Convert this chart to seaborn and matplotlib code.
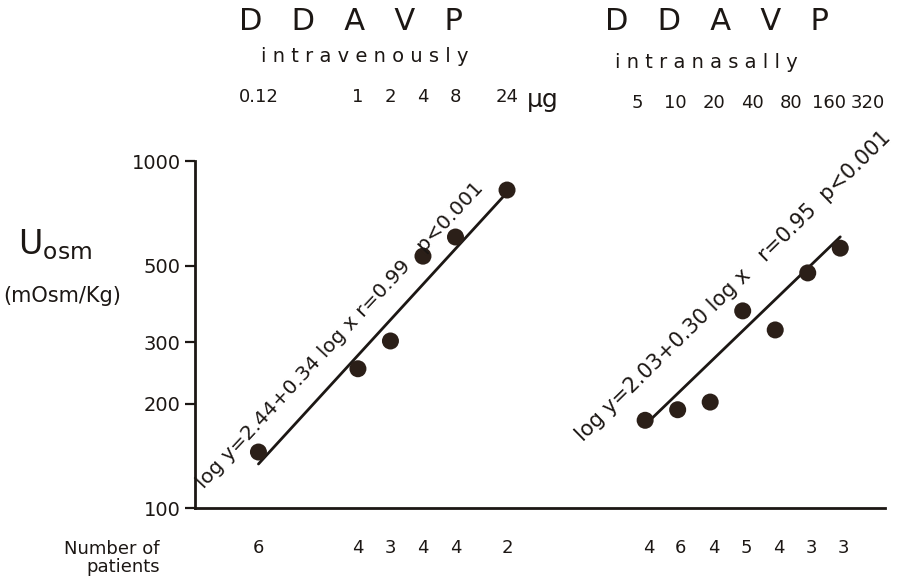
import numpy as np
import pandas as pd
import matplotlib
matplotlib.use('Agg')
import matplotlib.pyplot as plt
import matplotlib.transforms as mtransforms
import seaborn as sns

# DDAVP given intravenously (ug) and intranasally (ug)
iv_dose = [0.12, 1, 2, 4, 8, 24]
iv_uosm = [145, 252, 303, 532, 604, 825]
iv_n = [6, 4, 3, 4, 4, 2]

in_dose = [5, 10, 20, 40, 80, 160, 320]
in_uosm = [179, 192, 202, 370, 326, 476, 561]
in_n = [4, 6, 4, 5, 4, 3, 3]

# regression: log y = a + b log x
iv_fit = (2.44, 0.34)
in_fit = (2.03, 0.30)
iv_label = 'log y=2.44+0.34 log x r=0.99   p<0.001'
in_label = 'log y=2.03+0.30 log x   r=0.95  p<0.001'

yticks = [100, 200, 300, 500, 1000]

IN_OFFSET = 6.51  # horizontal shift of the intranasal block (log2 units)

df = pd.concat([
    pd.DataFrame({'dose': iv_dose, 'uosm': iv_uosm, 'n': iv_n, 'route': 'iv',
                  'pos': np.log2(iv_dose)}),
    pd.DataFrame({'dose': in_dose, 'uosm': in_uosm, 'n': in_n, 'route': 'in',
                  'pos': np.log2(in_dose) + IN_OFFSET}),
], ignore_index=True)

sns.set_style('white')
plt.rcParams['font.family'] = ['DejaVu Sans']
ink = '#1c1714'

fig = plt.figure(figsize=(9.14, 5.81), dpi=100)
ax = fig.add_axes([0.213, 0.1256, 0.755, 0.5972])

# fitted lines from the stated equations
lines = []
for route, doses, (a, b), off in [('iv', iv_dose, iv_fit, 0), ('in', in_dose, in_fit, IN_OFFSET)]:
    xs = np.array([doses[0], doses[-1]], dtype=float)
    lines.append(pd.DataFrame({'pos': np.log2(xs) + off,
                               'fit': 10 ** (a + b * np.log10(xs)),
                               'route': route}))
lines = pd.concat(lines, ignore_index=True)
sns.lineplot(data=lines, x='pos', y='fit', units='route', estimator=None,
             color=ink, lw=2.0, ax=ax, legend=False)

sns.scatterplot(data=df, x='pos', y='uosm', color='#2b1f18', s=150,
                edgecolor='none', ax=ax, legend=False, zorder=3)

ax.set_yscale('log')
ax.set_ylim(100, 1000)
ax.set_xlim(-5.02, 16.2)
ax.set_yticks(yticks)
ax.set_yticklabels([str(t) for t in yticks], fontsize=14, color=ink)
ax.yaxis.set_minor_locator(matplotlib.ticker.NullLocator())
ax.set_xticks([])
ax.tick_params(axis='y', direction='out', length=7, width=1.6, left=True, color=ink, pad=3)
ax.set_xlabel('')
ax.set_ylabel('')
for side in ['top', 'right']:
    ax.spines[side].set_visible(False)
for side in ['left', 'bottom']:
    ax.spines[side].set_linewidth(2.0)
    ax.spines[side].set_color(ink)

# equations along the lines
ax.text(-4.72, 113, iv_label, rotation=47, rotation_mode='anchor',
        ha='left', va='baseline', fontsize=14.5, color=ink)
ax.text(6.92, 155, in_label, rotation=44.5, rotation_mode='anchor',
        ha='left', va='baseline', fontsize=15, color=ink)

# top dose labels and bottom patient numbers
trans = mtransforms.blended_transform_factory(ax.transData, fig.transFigure)
iv = df[df.route == 'iv']
nas = df[df.route == 'in']
for p, d in zip(iv.pos, iv.dose):
    lab = '0.12' if d == 0.12 else f'{d:g}'
    ax.text(p, 1 - 97 / 581, lab, transform=trans, ha='center', va='center',
            fontsize=13, color=ink)
ax.text(iv.pos.iloc[-1] + 0.6, 1 - 100 / 581, 'µg', transform=trans, ha='left',
        va='center', fontsize=18, color=ink)
centre = nas.pos.mean()
for p, d in zip(nas.pos, nas.dose):
    ax.text(centre + 0.3 + 1.18 * (p - centre), 1 - 103 / 581, f'{d:g}', transform=trans,
            ha='center', va='center', fontsize=13, color=ink)
for p, n in zip(df.pos, df.n):
    ax.text(p + (0.1 if p > 5 else 0), 1 - 548 / 581, str(n), transform=trans,
            ha='center', va='center', fontsize=13, color=ink)

# headers
fig.text(351 / 914, 1 - 22 / 581, 'D   D   A   V   P', ha='center', va='center',
         fontsize=22, color=ink)
fig.text(717 / 914, 1 - 22 / 581, 'D   D   A   V   P', ha='center', va='center',
         fontsize=22, color=ink)
fig.text(365 / 914, 1 - 57 / 581, 'i n t r a v e n o u s l y', ha='center', va='center',
         fontsize=14, color=ink)
fig.text(706 / 914, 1 - 62 / 581, 'i n t r a n a s a l l y', ha='center', va='center',
         fontsize=14, color=ink)

# axis label
fig.text(18 / 914, 1 - 245 / 581, r'U$_\mathregular{osm}$', ha='left', va='center',
         fontsize=24, color=ink)
fig.text(3 / 914, 1 - 296 / 581, '(mOsm/Kg)', ha='left', va='center',
         fontsize=15, color=ink)
fig.text(160 / 914, 1 - 558 / 581, 'Number of\npatients', ha='right', va='center',
         fontsize=13, color=ink, linespacing=0.95)

fig.savefig('out.png', dpi=100, facecolor='white')
